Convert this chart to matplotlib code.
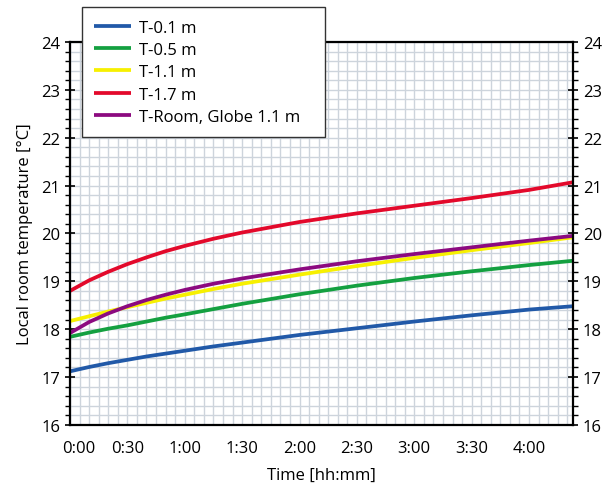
import numpy as np
import matplotlib.pyplot as plt
from matplotlib.ticker import MultipleLocator, FuncFormatter

plt.rcParams['font.family'] = ['Open Sans', 'DejaVu Sans']

# time in minutes
minutes = [0, 10, 20, 30, 40, 50, 60, 75, 90, 120, 150, 180, 210, 240, 263]

t_01 = [17.12, 17.21, 17.29, 17.36, 17.43, 17.49, 17.55, 17.64, 17.72, 17.88, 18.02, 18.16, 18.29, 18.41, 18.48]
t_05 = [17.84, 17.93, 18.01, 18.08, 18.16, 18.24, 18.31, 18.42, 18.53, 18.73, 18.91, 19.07, 19.21, 19.34, 19.43]
t_11 = [18.17, 18.27, 18.37, 18.46, 18.55, 18.64, 18.72, 18.84, 18.95, 19.14, 19.32, 19.49, 19.65, 19.80, 19.92]
t_17 = [18.80, 19.02, 19.20, 19.36, 19.50, 19.63, 19.74, 19.89, 20.02, 20.24, 20.42, 20.58, 20.74, 20.91, 21.07]
t_room = [17.92, 18.15, 18.33, 18.48, 18.61, 18.72, 18.82, 18.95, 19.06, 19.25, 19.42, 19.57, 19.71, 19.85, 19.95]

labels = ["T-0.1 m", "T-0.5 m", "T-1.1 m", "T-1.7 m", "T-Room, Globe 1.1 m"]
colors = ["#2159a8", "#14a040", "#f7f000", "#e3092b", "#8c0a80"]
series = [t_01, t_05, t_11, t_17, t_room]


def hhmm(v, pos=None):
    return f"{int(v // 60)}:{int(v % 60):02d}"


fig = plt.figure(figsize=(6.07, 4.89), dpi=100)
ax = fig.add_axes([0.1153, 0.129, 0.8287, 0.783])

for vals, col, lab in zip(series, colors, labels):
    ax.plot(minutes, vals, color=col, lw=2.7, label=lab,
            solid_capstyle='butt', solid_joinstyle='round')

ax.set_xlim(0, 263)
ax.set_ylim(16, 24)

# grid every 5 minutes / 0.2 degrees
ax.xaxis.set_major_locator(MultipleLocator(30))
ax.xaxis.set_minor_locator(MultipleLocator(5))
ax.yaxis.set_major_locator(MultipleLocator(1))
ax.yaxis.set_minor_locator(MultipleLocator(0.2))
ax.grid(True, which='both', color='#cdd4dc', lw=1.0)
ax.set_axisbelow(True)

# 0:00 is drawn separately, nudged right of the axis edge
ax.xaxis.set_major_formatter(FuncFormatter(lambda v, p: "" if v == 0 else hhmm(v)))
ax.annotate(hhmm(0), xy=(0, 0), xycoords=('data', 'axes fraction'),
            xytext=(6, -11), textcoords='offset points',
            ha='center', va='top', fontsize=12)

ax.tick_params(axis='x', which='both', length=0, labelsize=12, pad=11)
ax.tick_params(axis='y', which='major', direction='inout', length=7, width=1.2,
               labelsize=12, left=True, right=True, labelleft=True, labelright=True)
ax.tick_params(axis='y', which='minor', direction='out', length=3.5, width=1.0,
               left=True, right=True)

for sp in ax.spines.values():
    sp.set_linewidth(1.6)
    sp.set_color('black')

ax.set_xlabel("Time [hh:mm]", fontsize=12, labelpad=8)
ax.set_ylabel("Local room temperature [°C]", fontsize=12, labelpad=6)

leg = ax.legend(loc='upper left', bbox_to_anchor=(0.135, 0.72, 0.4, 0.2636),
                bbox_transform=fig.transFigure, mode='expand',
                fontsize=12, frameon=True,
                fancybox=False, framealpha=1, edgecolor='#333333',
                handlelength=2.2, handletextpad=0.45, labelspacing=0.38,
                borderpad=0.75, borderaxespad=0)
leg.get_frame().set_linewidth(1.0)

fig.savefig("out.png", dpi=100)
